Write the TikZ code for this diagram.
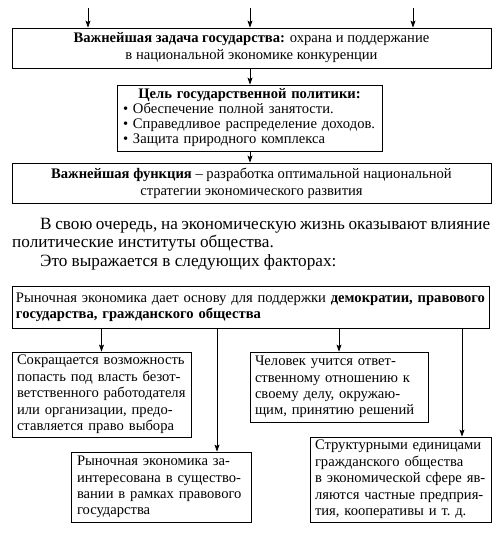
\documentclass[tikz,border=0pt]{standalone}
\usepackage{fontspec}
\setmainfont{Liberation Serif}
\usetikzlibrary{arrows.meta}
\begin{document}
\begin{tikzpicture}[x=1pt,y=-1pt,
  box/.style={draw, line width=0.8pt, inner sep=0pt, font=\fontsize{14.6}{16.4}\selectfont},
  arr/.style={line width=0.7pt, -{Stealth[length=7pt,width=5pt,inset=1.5pt]}},
  conn/.style={line width=0.7pt}]
\useasboundingbox (0,0) rectangle (502,533);
% top part
\node[box, minimum width=479pt, minimum height=40pt, align=center,
      font=\fontsize{14.6}{17}\selectfont] (b1) at (251.5,48)
  {\textbf{Важнейшая задача государства:} охрана и поддержание\\в национальной экономике конкуренции};
\node[box, minimum width=265pt, minimum height=66pt, text width=253pt, align=left,
      font=\fontsize{14.6}{15}\selectfont] (b2) at (249.5,118)
  {\centering\textbf{Цель государственной политики:}\par
   \raggedright • Обеспечение полной занятости.\\
   • Справедливое распределение доходов.\\
   • Защита природного комплекса};
\node[box, minimum width=479pt, minimum height=40pt, align=center,
      font=\fontsize{14.6}{17}\selectfont] (b3) at (251.5,183)
  {\textbf{Важнейшая функция} – разработка оптимальной национальной\\стратегии экономического развития};
\coordinate (t1) at (88,8);
\coordinate (t2) at (250,8);
\coordinate (t3) at (413,8);
\draw[arr] (t1) -- (b1.north -| t1);
\draw[arr] (t2) -- (b1.north -| t2);
\draw[arr] (t3) -- (b1.north -| t3);
\draw[arr] (b1.south -| t2) -- (b2.north -| t2);
\draw[arr] (b2.south -| t2) -- (b3.north -| t2);
% paragraph
\node[anchor=north west, inner sep=0pt, text width=478pt, align=justify,
      font=\fontsize{17.2}{18.5}\selectfont] (para) at (12,218)
  {\hspace*{28pt}В свою очередь, на экономическую жизнь оказывают влияние\linebreak
   политические институты общества.\\
   \hspace*{28pt}Это выражается в следующих факторах:};
% lower part
\node[box, minimum width=477pt, minimum height=42pt, text width=469pt, align=left] (b4) at (250.5,307)
  {Рыночная экономика дает основу для поддержки \textbf{демократии, правового}\\
   \textbf{государства, гражданского общества}};
\node[box, minimum width=179pt, minimum height=85pt, text width=169pt, align=left] (b5) at (101.5,394.5)
  {Сокращается возможность\\попасть под власть безот-\\ветственного работодателя\\или организации, предо-\\ставляется право выбора};
\node[box, minimum width=178pt, minimum height=70pt, text width=168pt, align=left] (b7) at (339,387)
  {Человек учится ответ-\\ственному отношению к\\своему делу, окружаю-\\щим, принятию решений};
\node[box, minimum width=180pt, minimum height=70pt, text width=168pt, align=left] (b6) at (161,487)
  {Рыночная экономика за-\\интересована в существо-\\вании в рамках правового\\государства};
\node[box, minimum width=181pt, minimum height=85pt, text width=171pt, align=left] (b8) at (400.5,479.5)
  {Структурными единицами\\гражданского общества\\в экономической сфере яв-\\ляются частные предприя-\\тия, кооперативы и т.~д.};
\coordinate (l2) at (217,0);
\coordinate (l4) at (462,0);
\draw[arr] (b4.south -| b5.north) -- (b5.north);
\draw[arr] (b4.south -| l2) -- (b6.north -| l2);
\draw[arr] (b4.south -| b7.north) -- (b7.north);
\draw[arr] (b4.south -| l4) -- (b8.north -| l4);
\end{tikzpicture}
\end{document}
